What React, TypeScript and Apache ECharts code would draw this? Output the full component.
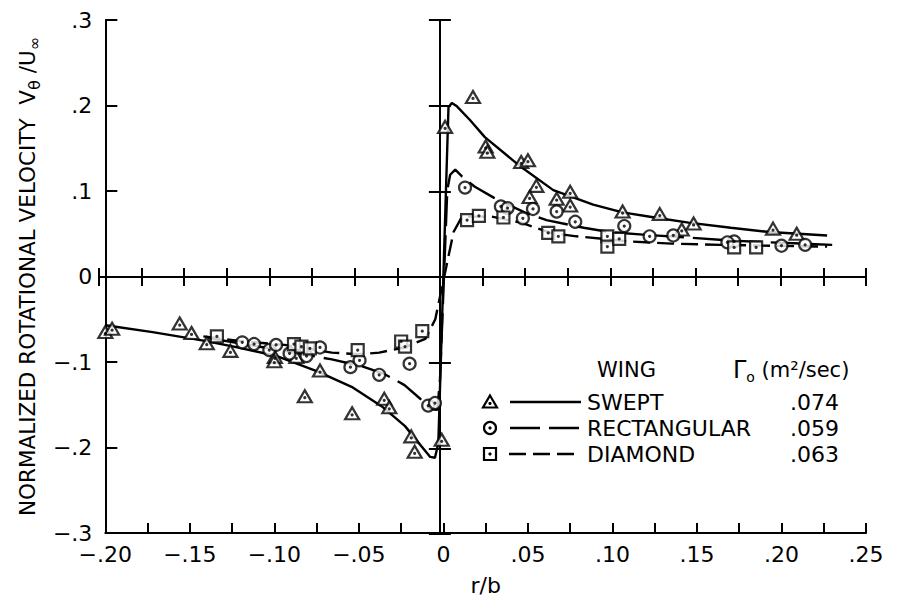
import React, { useEffect, useRef } from "react";
import * as echarts from "echarts";

// ---------- data (r/b, V_theta/U_inf) ----------
const sweptCurve: [number, number][] = [
  [-0.2, -0.057], [-0.172, -0.065], [-0.142, -0.075], [-0.124, -0.082],
  [-0.0985, -0.093], [-0.0746, -0.111], [-0.0543, -0.129], [-0.0364, -0.152],
  [-0.0227, -0.175], [-0.0149, -0.194], [-0.0107, -0.204], [-0.0078, -0.211],
  [-0.005, -0.212], [-0.003, -0.195], [0.003, 0.198], [0.005, 0.203],
  [0.008, 0.199], [0.0157, 0.183], [0.0245, 0.163], [0.046, 0.128],
  [0.065, 0.101], [0.0886, 0.084], [0.106, 0.075], [0.125, 0.069],
  [0.145, 0.063], [0.17, 0.057], [0.193, 0.052], [0.227, 0.048],
];

const rectCurve: [number, number][] = [
  [-0.139, -0.072], [-0.118, -0.079], [-0.094, -0.087], [-0.066, -0.097],
  [-0.048, -0.105], [-0.035, -0.114], [-0.023, -0.127], [-0.0137, -0.143],
  [-0.0078, -0.155], [-0.0036, -0.156], [-0.002, -0.12], [0.0023, 0.101],
  [0.004, 0.119], [0.007, 0.125], [0.011, 0.117], [0.0186, 0.105],
  [0.03, 0.092], [0.048, 0.075], [0.061, 0.066], [0.083, 0.057],
  [0.098, 0.052], [0.118, 0.049], [0.145, 0.0455], [0.17, 0.042],
  [0.193, 0.04], [0.23, 0.037],
];

const diamondCurve: [number, number][] = [
  [-0.142, -0.07], [-0.118, -0.076], [-0.094, -0.08], [-0.066, -0.089],
  [-0.05, -0.091], [-0.038, -0.089], [-0.023, -0.083], [-0.0107, -0.073],
  [-0.0048, -0.05], [0.006, 0.052], [0.011, 0.07], [0.0286, 0.07],
  [0.046, 0.063], [0.0635, 0.051], [0.0787, 0.047], [0.11, 0.041],
  [0.135, 0.0385], [0.164, 0.037], [0.193, 0.036], [0.227, 0.035],
];

const sweptPoints: [number, number][] = [
  [-0.2, -0.065], [-0.196, -0.061], [-0.156, -0.055], [-0.149, -0.066],
  [-0.14, -0.078], [-0.126, -0.087], [-0.0997, -0.094], [-0.1, -0.099],
  [-0.082, -0.14], [-0.073, -0.11], [-0.087, -0.094], [-0.054, -0.16],
  [-0.035, -0.143], [-0.032, -0.153], [-0.019, -0.187], [-0.017, -0.205],
  [-0.001, -0.191], [0.001, 0.175], [0.0175, 0.21], [0.025, 0.152],
  [0.026, 0.146], [0.046, 0.134], [0.05, 0.136], [0.055, 0.106],
  [0.051, 0.093], [0.067, 0.091], [0.075, 0.099], [0.075, 0.083],
  [0.106, 0.076], [0.128, 0.073], [0.141, 0.055], [0.148, 0.062],
  [0.195, 0.056], [0.209, 0.05],
];

const rectPoints: [number, number][] = [
  [-0.119, -0.077], [-0.112, -0.079], [-0.103, -0.086], [-0.099, -0.08],
  [-0.091, -0.09], [-0.081, -0.093], [-0.073, -0.083], [-0.055, -0.106],
  [-0.0496, -0.098], [-0.038, -0.115], [-0.02, -0.102], [-0.009, -0.151],
  [-0.005, -0.148], [0.0128, 0.104], [0.034, 0.082], [0.038, 0.08],
  [0.047, 0.068], [0.053, 0.079], [0.067, 0.076], [0.078, 0.064],
  [0.107, 0.059], [0.122, 0.047], [0.136, 0.048], [0.172, 0.041],
  [0.168, 0.04], [0.2, 0.036], [0.214, 0.037],
];

const diamondPoints: [number, number][] = [
  [-0.134, -0.07], [-0.0884, -0.079], [-0.084, -0.082], [-0.079, -0.084],
  [-0.0507, -0.086], [-0.025, -0.076], [-0.0227, -0.082], [-0.0125, -0.064],
  [0.014, 0.066], [0.021, 0.071], [0.0355, 0.069], [0.062, 0.051],
  [0.068, 0.047], [0.097, 0.047], [0.097, 0.035], [0.104, 0.044],
  [0.172, 0.034], [0.185, 0.034],
];

const wingNames = ["SWEPT", "RECTANGULAR", "DIAMOND"];
const gammaValues = [".074", ".059", ".063"];

// ---------- style ----------
const INK = "#000";
const FONT = '"DejaVu Sans", sans-serif';

const fmtX = (v: number) => {
  if (Math.abs(v) < 1e-9) return "0";
  return (v < 0 ? "\u2212" : "") + Math.abs(v).toFixed(2).replace(/^0/, "");
};
const fmtY = (v: number) => {
  if (Math.abs(v) < 1e-9) return "0";
  return (v < 0 ? "\u2212" : "") + Math.abs(v).toFixed(1).replace(/^0/, "");
};

const tickLine = { color: INK, width: 2 };
const axisLineStyle = { color: INK, width: 2 };

// the div sits at the page's 8px body margin
const GRID = { left: 91, top: 12, width: 767, height: 514 };

export default function App() {
  const ref = useRef<HTMLDivElement>(null);

  useEffect(() => {
    if (!ref.current) return;
    const chart = echarts.init(ref.current, undefined, { renderer: "svg" });

    const markerStyle = { color: "#fff", borderColor: INK, borderWidth: 2.2 };
    const dotSeries = (data: [number, number][], offsetY: number) => ({
      type: "scatter",
      data,
      symbol: "circle",
      symbolSize: 3.2,
      symbolOffset: [0, offsetY],
      itemStyle: { color: INK },
      z: 5,
      silent: true,
    });

    const rowsY = [394, 420, 446];
    const lx = 482;
    const legendEls: any[] = [
      {
        type: "text",
        x: 589,
        y: 362,
        style: { text: "WING", font: `21px ${FONT}`, fill: INK, textVerticalAlign: "middle" },
      },
      {
        type: "text",
        x: 725,
        y: 362,
        style: {
          text: "{g|\u0393}{s|o}{t| (m\u00b2/sec)}",
          fill: INK,
          textVerticalAlign: "middle",
          rich: {
            g: { fontSize: 24, fontFamily: FONT, lineHeight: 28, fill: INK },
            s: { fontSize: 14, fontFamily: FONT, verticalAlign: "bottom", lineHeight: 14, fill: INK },
            t: { fontSize: 21, fontFamily: FONT, lineHeight: 28, fill: INK },
          },
        },
      },
      // markers
      {
        type: "polygon",
        shape: { points: [[lx, rowsY[0] - 6.5], [lx + 7, rowsY[0] + 5.5], [lx - 7, rowsY[0] + 5.5]] },
        style: { fill: "#fff", stroke: INK, lineWidth: 2.2 },
      },
      { type: "circle", shape: { cx: lx, cy: rowsY[0] + 1.5, r: 1.6 }, style: { fill: INK } },
      { type: "circle", shape: { cx: lx, cy: rowsY[1], r: 6 }, style: { fill: "#fff", stroke: INK, lineWidth: 2.2 } },
      { type: "circle", shape: { cx: lx, cy: rowsY[1], r: 1.6 }, style: { fill: INK } },
      { type: "rect", shape: { x: lx - 6, y: rowsY[2] - 6, width: 12, height: 12 }, style: { fill: "#fff", stroke: INK, lineWidth: 2.2 } },
      { type: "circle", shape: { cx: lx, cy: rowsY[2], r: 1.6 }, style: { fill: INK } },
      // lines
      { type: "line", shape: { x1: 502, y1: rowsY[0], x2: 573, y2: rowsY[0] }, style: { stroke: INK, lineWidth: 2.3 } },
      { type: "line", shape: { x1: 502, y1: rowsY[1], x2: 573, y2: rowsY[1] }, style: { stroke: INK, lineWidth: 2.3, lineDash: [30, 9] } },
      { type: "line", shape: { x1: 501, y1: rowsY[2], x2: 573, y2: rowsY[2] }, style: { stroke: INK, lineWidth: 2.3, lineDash: [17, 7] } },
    ];
    wingNames.forEach((n, i) => {
      legendEls.push({
        type: "text",
        x: 579,
        y: rowsY[i],
        style: { text: n, font: `22px ${FONT}`, fill: INK, textVerticalAlign: "middle" },
      });
      legendEls.push({
        type: "text",
        x: 782,
        y: rowsY[i],
        style: { text: gammaValues[i], font: `22px ${FONT}`, fill: INK, textVerticalAlign: "middle" },
      });
    });

    const option: any = {
      animation: false,
      backgroundColor: "#fff",
      grid: [GRID, GRID, GRID],
      xAxis: [
        {
          gridIndex: 0,
          type: "value",
          min: -0.2,
          max: 0.25,
          interval: 0.05,
          position: "bottom",
          axisLine: { onZero: false, lineStyle: axisLineStyle },
          axisTick: { inside: true, length: 10, lineStyle: tickLine },
          minorTick: { show: true, splitNumber: 2, length: 10, lineStyle: tickLine },
          splitLine: { show: false },
          minorSplitLine: { show: false },
          axisLabel: { formatter: fmtX, fontSize: 22, color: INK, fontFamily: FONT, margin: 10 },
          name: "r/b",
          nameLocation: "middle",
          nameGap: 41,
          nameTextStyle: { fontSize: 22, color: INK, fontFamily: FONT },
        },
        {
          gridIndex: 1,
          type: "value",
          min: -0.2,
          max: 0.25,
          interval: 0.025,
          axisLine: { onZero: true, lineStyle: axisLineStyle },
          axisTick: { inside: true, length: 9, lineStyle: tickLine },
          axisLabel: { show: false },
          splitLine: { show: false },
        },
        {
          gridIndex: 2,
          type: "value",
          min: -0.2,
          max: 0.25,
          interval: 0.025,
          axisLine: { onZero: true, lineStyle: axisLineStyle },
          axisTick: { inside: false, length: 9, lineStyle: tickLine },
          axisLabel: { show: false },
          splitLine: { show: false },
        },
      ],
      yAxis: [
        {
          gridIndex: 0,
          type: "value",
          min: -0.3,
          max: 0.3,
          interval: 0.1,
          position: "left",
          axisLine: { onZero: false, lineStyle: axisLineStyle },
          axisTick: { inside: true, length: 12, lineStyle: tickLine },
          splitLine: { show: false },
          axisLabel: { formatter: fmtY, fontSize: 22, color: INK, fontFamily: FONT, margin: 13 },
          name: "{t|NORMALIZED ROTATIONAL VELOCITY  V}{s|\u03b8}{t| /U}{s|\u221e}",
          nameLocation: "middle",
          nameGap: 62,
          nameTextStyle: {
            color: INK,
            rich: {
              t: { fontSize: 21.5, fontFamily: FONT, lineHeight: 30, color: INK },
              s: { fontSize: 16, fontFamily: FONT, verticalAlign: "bottom", lineHeight: 16, color: INK },
            },
          },
        },
        {
          gridIndex: 1,
          type: "value",
          min: -0.3,
          max: 0.3,
          interval: 0.1,
          axisLine: { onZero: true, lineStyle: axisLineStyle },
          axisTick: { inside: true, length: 11, lineStyle: tickLine },
          axisLabel: { show: false },
          splitLine: { show: false },
        },
        {
          gridIndex: 2,
          type: "value",
          min: -0.3,
          max: 0.3,
          interval: 0.1,
          axisLine: { onZero: true, lineStyle: axisLineStyle },
          axisTick: { inside: false, length: 11, lineStyle: tickLine },
          axisLabel: { show: false },
          splitLine: { show: false },
        },
      ],
      series: [
        {
          type: "line",
          data: sweptCurve,
          symbol: "none",
          lineStyle: { color: INK, width: 2.4, type: "solid" },
          z: 2,
          silent: true,
        },
        {
          type: "line",
          data: rectCurve,
          symbol: "none",
          lineStyle: { color: INK, width: 2.4, type: [30, 9] },
          z: 2,
          silent: true,
        },
        {
          type: "line",
          data: diamondCurve,
          symbol: "none",
          lineStyle: { color: INK, width: 2.4, type: [17, 7] },
          z: 2,
          silent: true,
        },
        {
          type: "scatter",
          data: sweptPoints,
          symbol: "triangle",
          symbolSize: [14, 12],
          itemStyle: markerStyle,
          z: 4,
        },
        {
          type: "scatter",
          data: rectPoints,
          symbol: "circle",
          symbolSize: 12,
          itemStyle: markerStyle,
          z: 4,
        },
        {
          type: "scatter",
          data: diamondPoints,
          symbol: "rect",
          symbolSize: 12,
          itemStyle: markerStyle,
          z: 4,
        },
        dotSeries(sweptPoints, 1.5),
        dotSeries(rectPoints, 0),
        dotSeries(diamondPoints, 0),
      ],
      graphic: legendEls,
    };

    chart.setOption(option);
    return () => chart.dispose();
  }, []);

  return <div ref={ref} style={{ width: 886, height: 593 }} />;
}
